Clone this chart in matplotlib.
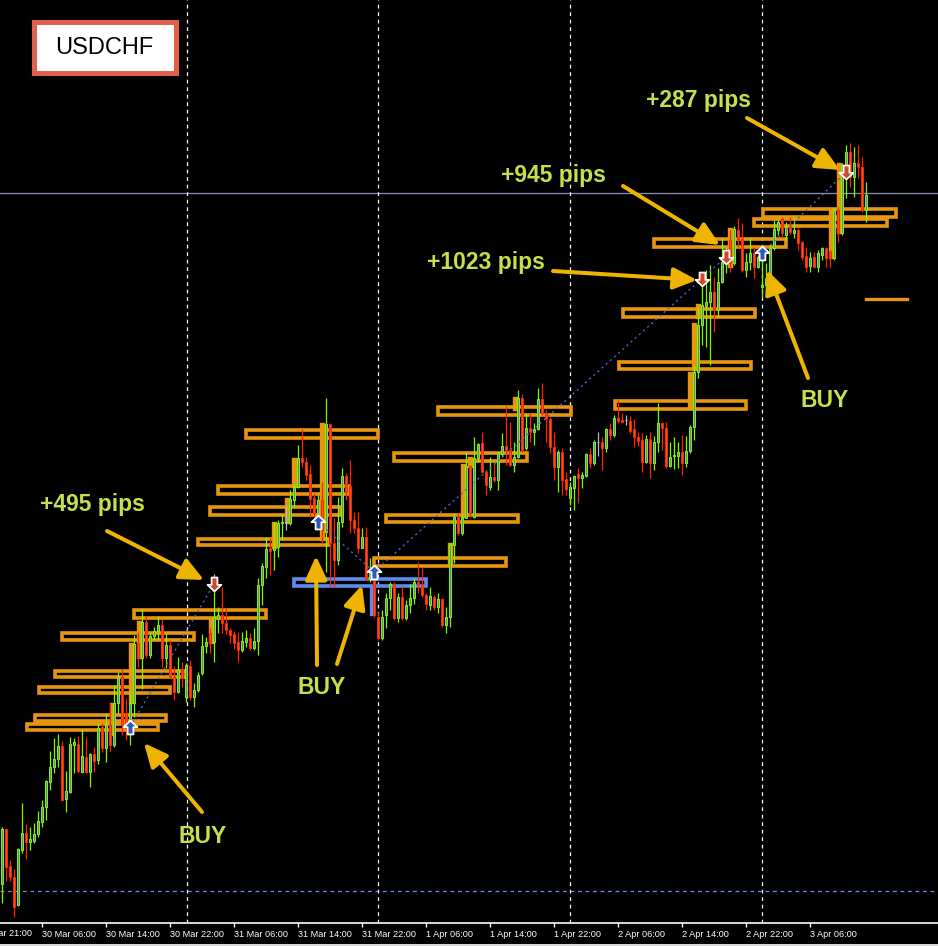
import numpy as np
import matplotlib
matplotlib.use('Agg')
import matplotlib.pyplot as plt
import matplotlib.transforms as mtransforms
from matplotlib.patches import Rectangle, FancyArrowPatch
from matplotlib.path import Path

# M30 bars, price in points; first visible bar index
first_bar = 6
opens = [116, 171, 134, 123, 95, 150, 167, 158, 159, 166,
         178, 193, 218, 233, 241, 254, 201, 208, 255, 256,
         228, 243, 228, 246, 240, 273, 252, 275, 255, 297,
         323, 287, 280, 297, 357, 342, 378, 345, 364, 369,
         375, 342, 355, 323, 308, 330, 303, 334, 303, 310,
         327, 354, 367, 358, 381, 385, 377, 370, 366, 358,
         350, 358, 362, 352, 359, 415, 433, 452, 450, 453,
         477, 478, 477, 500, 513, 542, 538, 526, 502, 487,
         500, 468, 576, 457, 440, 478, 524, 514, 480, 472,
         452, 463, 421, 423, 383, 362, 385, 402, 416, 382,
         403, 382, 395, 402, 418, 416, 405, 395, 403, 393,
         401, 375, 383, 455, 483, 467, 482, 534, 483, 542,
         557, 528, 513, 523, 520, 546, 554, 550, 535, 543,
         602, 552, 572, 568, 571, 601, 587, 581, 553, 533,
         548, 521, 502, 512, 526, 522, 524, 546, 537, 558,
         558, 552, 571, 565, 582, 580, 580, 579, 571, 563,
         560, 538, 561, 537, 558, 577, 572, 534, 544, 544,
         548, 537, 549, 573, 628, 675, 694, 698, 708, 690,
         718, 738, 760, 737, 770, 761, 730, 738, 747, 733,
         713, 715, 722, 752, 770, 781, 765, 773, 767, 770,
         758, 744, 734, 743, 733, 745, 752, 748, 742, 790,
         767, 835, 848, 823, 837, 833, 790]
highs = [173, 171, 140, 131, 152, 197, 176, 173, 177, 189,
         200, 220, 249, 262, 266, 259, 229, 263, 262, 264,
         271, 263, 247, 253, 277, 277, 287, 297, 315, 328,
         331, 302, 309, 365, 368, 391, 384, 367, 373, 384,
         381, 367, 360, 334, 343, 338, 337, 340, 317, 328,
         366, 363, 372, 426, 393, 413, 392, 372, 369, 368,
         368, 370, 367, 372, 422, 437, 463, 462, 478, 480,
         486, 494, 510, 516, 555, 571, 543, 535, 507, 505,
         518, 602, 577, 482, 503, 532, 527, 540, 488, 488,
         472, 473, 442, 425, 388, 390, 407, 418, 418, 407,
         414, 400, 416, 422, 438, 432, 407, 413, 405, 407,
         402, 393, 457, 487, 487, 487, 548, 535, 563, 557,
         568, 530, 543, 537, 548, 567, 594, 578, 558, 610,
         606, 587, 587, 577, 612, 617, 590, 583, 568, 550,
         552, 528, 518, 525, 532, 528, 547, 552, 560, 568,
         563, 572, 577, 585, 600, 587, 585, 584, 581, 568,
         567, 565, 568, 564, 597, 578, 578, 558, 563, 558,
         565, 564, 575, 634, 693, 718, 730, 735, 723, 732,
         762, 753, 770, 774, 782, 777, 747, 763, 753, 745,
         743, 737, 755, 780, 781, 783, 778, 783, 783, 772,
         759, 753, 748, 748, 750, 753, 753, 750, 792, 793,
         837, 855, 857, 853, 855, 843, 818]
lows = [97, 119, 119, 83, 94, 147, 141, 150, 157, 163,
        173, 180, 210, 227, 233, 199, 188, 207, 227, 227,
        227, 227, 213, 228, 236, 248, 238, 249, 253, 287,
        265, 260, 255, 283, 333, 311, 342, 342, 360, 360,
        333, 332, 322, 300, 307, 313, 298, 300, 293, 308,
        325, 347, 347, 338, 367, 367, 366, 357, 351, 338,
        348, 353, 350, 350, 345, 395, 422, 425, 430, 443,
        460, 470, 475, 493, 512, 533, 520, 483, 483, 473,
        457, 428, 413, 413, 435, 473, 500, 467, 467, 447,
        452, 420, 418, 383, 360, 360, 372, 390, 380, 378,
        380, 380, 387, 396, 407, 403, 390, 390, 390, 387,
        373, 367, 373, 437, 465, 465, 482, 483, 482, 538,
        527, 505, 510, 518, 510, 543, 535, 534, 528, 542,
        548, 550, 558, 555, 570, 585, 558, 547, 520, 508,
        505, 505, 495, 490, 497, 512, 523, 532, 535, 544,
        530, 548, 560, 563, 577, 577, 575, 567, 553, 554,
        528, 537, 522, 530, 548, 550, 532, 533, 531, 532,
        525, 533, 547, 560, 622, 655, 653, 635, 668, 683,
        717, 727, 728, 735, 753, 728, 723, 730, 722, 732,
        703, 712, 720, 750, 765, 762, 760, 766, 762, 750,
        740, 728, 728, 732, 728, 740, 733, 733, 740, 758,
        765, 802, 813, 803, 822, 788, 778]
closes = [171, 133, 123, 93, 151, 167, 158, 161, 166, 179,
          193, 219, 233, 241, 254, 200, 209, 256, 258, 229,
          244, 228, 246, 239, 272, 252, 275, 255, 297, 323,
          275, 275, 297, 356, 342, 378, 345, 364, 369, 375,
          342, 355, 323, 308, 330, 322, 335, 303, 310, 325,
          354, 358, 357, 383, 385, 377, 370, 365, 357, 350,
          359, 362, 352, 359, 415, 434, 451, 449, 453, 477,
          478, 478, 501, 513, 542, 538, 525, 501, 487, 500,
          470, 576, 457, 440, 478, 524, 508, 480, 472, 452,
          463, 421, 427, 385, 362, 383, 402, 416, 382, 403,
          382, 395, 402, 418, 416, 405, 396, 404, 393, 401,
          375, 383, 455, 483, 467, 482, 534, 487, 542, 556,
          528, 515, 523, 520, 547, 554, 550, 535, 543, 602,
          550, 572, 568, 571, 601, 587, 581, 553, 533, 548,
          520, 511, 513, 524, 522, 525, 546, 537, 558, 558,
          552, 571, 565, 582, 579, 578, 580, 569, 563, 559,
          538, 561, 537, 558, 577, 572, 534, 543, 545, 548,
          537, 549, 573, 628, 675, 695, 698, 708, 690, 718,
          738, 743, 737, 771, 761, 730, 738, 747, 733, 743,
          715, 722, 752, 771, 778, 767, 773, 768, 770, 757,
          743, 733, 742, 733, 747, 752, 742, 742, 790, 767,
          835, 848, 823, 837, 833, 790, 805]

tick_bars = [0, 16, 32, 48, 64, 80, 96, 112, 128, 144, 160, 176, 192, 208]
tick_labels = ["29 Mar 21:00", "30 Mar 06:00", "30 Mar 14:00", "30 Mar 22:00",
               "31 Mar 06:00", "31 Mar 14:00", "31 Mar 22:00", "1 Apr 06:00",
               "1 Apr 14:00", "1 Apr 22:00", "2 Apr 06:00", "2 Apr 14:00",
               "2 Apr 22:00", "3 Apr 06:00"]
day_breaks = [52.25, 100, 148, 196]
bid_level = 807
low_level = 109

# supply/demand zones: start bar, end bar, top, bottom
zone_start = [12, 14, 15, 19, 20.75, 38.75, 54.75, 57.75, 59.75, 66.75, 78.75,
              98.75, 101.75, 103.75, 114.75, 159, 160, 161, 168.75, 193.75, 196]
zone_end = [45.25, 47.25, 48.25, 52.25, 54.25, 72.25, 88, 91, 93, 100.25, 112.25,
            132.25, 135.25, 137.5, 148.5, 192.25, 193.5, 194.5, 202.25, 227.5, 229.75]
zone_top = [278, 287, 315, 331, 369, 392, 463, 495, 516, 572, 423,
            444, 487, 549, 595, 601, 640, 693, 763, 783, 793]
zone_bottom = [269, 278, 306, 322, 359, 381, 454, 484, 505, 561, 413,
               433, 477, 538, 584, 590, 630, 682, 752, 773, 782]
zone_kind = ['o'] * 10 + ['b'] + ['o'] * 10
# base candle legs of the zones: bar, top, bottom
leg_bar = [33.5, 38.25, 40.25, 58.25, 74, 77.25, 79, 86, 98.5, 118, 121.25, 123,
           134.25, 178, 179, 180, 188, 213.25, 215.25]
leg_top = [297, 357, 379, 382, 478, 502, 542, 577, 413, 457, 536, 543,
           603, 628, 677, 696, 772, 792, 837]
leg_bottom = [265, 297, 342, 357, 452, 477, 513, 460, 385, 435, 483, 533,
              590, 591, 630, 682, 733, 742, 767]
leg_kind = ['o'] * 8 + ['b'] + ['o'] * 10
short_level = (222, 232.25, 701)

buy_bars = [38, 85, 99, 196]
buy_prices = [273, 478, 428, 747]
exit_bars = [59, 181, 187, 217]
exit_prices = [416, 721, 743, 828]
trade_from = [(38, 273), (85, 478), (99, 428), (196, 747)]
trade_to = [(59, 416), (99, 428), (187, 743), (217, 828)]

note_texts = ["+495 pips", "+1023 pips", "+945 pips", "+287 pips", "BUY", "BUY", "BUY"]
note_pos = [(28.5, 496), (127, 738), (143.75, 825), (180.25, 900),
            (86, 313), (56.25, 164), (211.75, 600)]
arrow_from = [(32.25, 469), (143.75, 729), (161.25, 814), (192.25, 882),
              (56, 188), (84.75, 335), (89.75, 336), (207.5, 622)]
arrow_to = [(56.5, 420), (179.75, 720), (185.5, 755), (215.5, 830),
            (41.5, 257), (84.5, 444), (96, 415), (197.25, 730)]

BULL_EDGE = '#7CFC00'
BULL_FACE = '#6E8296'
BEAR_EDGE = '#FF2200'
BEAR_FACE = '#E85A1C'
DOJI = '#A8B8DC'
ZONE_ORANGE = '#E9960F'
ZONE_BLUE = '#5B8CF0'
NOTE_GREEN = '#C5E04B'
ARROW_GOLD = '#EEB400'

W, H = 938, 946
fig = plt.figure(figsize=(W / 100, H / 100), dpi=100, facecolor='black')
ax = fig.add_axes([0, 23 / H, 1, 923 / H])
ax.set_facecolor('black')

o = np.array(opens, float)
hi = np.array(highs, float)
lo = np.array(lows, float)
cl = np.array(closes, float)
x = first_bar + np.arange(len(o))
bull = cl > o
bear = cl < o
doji = cl == o

# reference lines
ax.axhline(bid_level, color='#8A93B3', lw=0.9, zorder=1)
ax.axhline(low_level, color='#6A8CFF', lw=0.9, ls=(0, (3, 3)), zorder=1)
for d in day_breaks:
    ax.axvline(d, color='white', lw=0.9, ls=(0, (3, 3)), zorder=1)

# zones
for s, e, t, b, k in zip(zone_start, zone_end, zone_top, zone_bottom, zone_kind):
    col = ZONE_BLUE if k == 'b' else ZONE_ORANGE
    ax.add_patch(Rectangle((s + 0.3, b + 1.5), e - s - 0.6, t - b - 3, fill=False,
                           ec=col, lw=2.6, zorder=2, joinstyle='miter'))
for xb, t, b, k in zip(leg_bar, leg_top, leg_bottom, leg_kind):
    col = ZONE_BLUE if k == 'b' else ZONE_ORANGE
    ax.add_patch(Rectangle((xb - 0.35, b + 1), 0.7, t - b - 2, fill=False,
                           ec=col, lw=2.4, zorder=2, joinstyle='miter'))
ax.plot([short_level[0], short_level[1]], [short_level[2], short_level[2]],
        color=ZONE_ORANGE, lw=2.4, zorder=2)

# candles
wick_cols = np.where(bull, BULL_EDGE, np.where(bear, BEAR_EDGE, DOJI))
ax.vlines(x, lo, hi, colors=list(wick_cols), lw=0.9, zorder=3)
body_h = np.maximum(np.abs(cl - o), 0.8)
body_b = np.minimum(o, cl)
ax.bar(x[bull], body_h[bull], bottom=body_b[bull], width=0.62,
       color=BULL_FACE, edgecolor=BULL_EDGE, lw=0.7, zorder=4)
ax.bar(x[bear], body_h[bear], bottom=body_b[bear], width=0.62,
       color=BEAR_FACE, edgecolor=BEAR_EDGE, lw=0.7, zorder=4)
ax.bar(x[doji], body_h[doji], bottom=body_b[doji] - 0.4, width=0.62,
       color=DOJI, edgecolor=DOJI, lw=0.7, zorder=4)

# trade lines and markers
for (x0, y0), (x1, y1) in zip(trade_from, trade_to):
    ax.plot([x0, x1], [y0, y1], color='#4566D0', lw=1.0, ls=(0, (1.5, 2.5)), zorder=5)

up_arrow = Path([(0, 1), (1, 0.05), (0.42, 0.05), (0.42, -1), (-0.42, -1),
                 (-0.42, 0.05), (-1, 0.05), (0, 1)])
down_arrow = Path([(0, -1), (1, -0.05), (0.42, -0.05), (0.42, 1), (-0.42, 1),
                   (-0.42, -0.05), (-1, -0.05), (0, -1)])
ax.plot(buy_bars, buy_prices, ls='none', marker=up_arrow, ms=10,
        mfc='#3358B0', mec='white', mew=1.3, zorder=7)
ax.plot(exit_bars, exit_prices, ls='none', marker=down_arrow, ms=10,
        mfc='#D2462A', mec='white', mew=1.3, zorder=7)

# annotations
for (x0, y0), (x1, y1) in zip(arrow_from, arrow_to):
    ax.add_patch(FancyArrowPatch((x0, y0), (x1, y1),
                                 arrowstyle='-|>,head_length=1.3,head_width=0.6',
                                 mutation_scale=11, lw=2.9, color=ARROW_GOLD,
                                 shrinkA=0, shrinkB=0, zorder=8))
for txt, (tx, ty) in zip(note_texts, note_pos):
    ax.text(tx, ty, txt, color=NOTE_GREEN, fontsize=16.5, fontweight='bold',
            family='Liberation Sans', ha='center', va='center', zorder=9)

# symbol box
fig.add_artist(Rectangle((33.5 / W, (H - 73.5) / H), 142 / W, 51 / H,
                         transform=fig.transFigure, fc='white', ec='#E0604E', lw=3.6))
fig.text(104.5 / W, (H - 47.5) / H, 'USDCHF', color='black', fontsize=17,
         family='Liberation Sans', ha='center', va='center')

# time axis
for sp in ['top', 'left', 'right']:
    ax.spines[sp].set_visible(False)
ax.spines['bottom'].set_color('white')
ax.spines['bottom'].set_linewidth(1.2)
ax.set_yticks([])
ax.set_xticks(tick_bars)
ax.set_xticklabels(tick_labels)
ax.tick_params(axis='x', colors='white', length=3, width=1, direction='out',
               labelsize=6.6, pad=2)
for lbl in ax.get_xticklabels():
    lbl.set_horizontalalignment('left')
    lbl.set_family('Liberation Sans')
# limits after the ticks, so the hidden first tick does not widen the view
ax.set_xlim(5.5, 240)
ax.set_ylim(77, 1000)
trans = mtransforms.blended_transform_factory(ax.transData, ax.transAxes)
ax.text(tick_bars[0], -0.0065, tick_labels[0], transform=trans, color='white',
        fontsize=6.6, family='Liberation Sans', ha='left', va='top', clip_on=False)
fig.add_artist(Rectangle((0, 0), 1, 2 / H, transform=fig.transFigure,
                         fc='#D8D8D8', ec='none'))

fig.savefig('out.png', dpi=100, facecolor='black')
